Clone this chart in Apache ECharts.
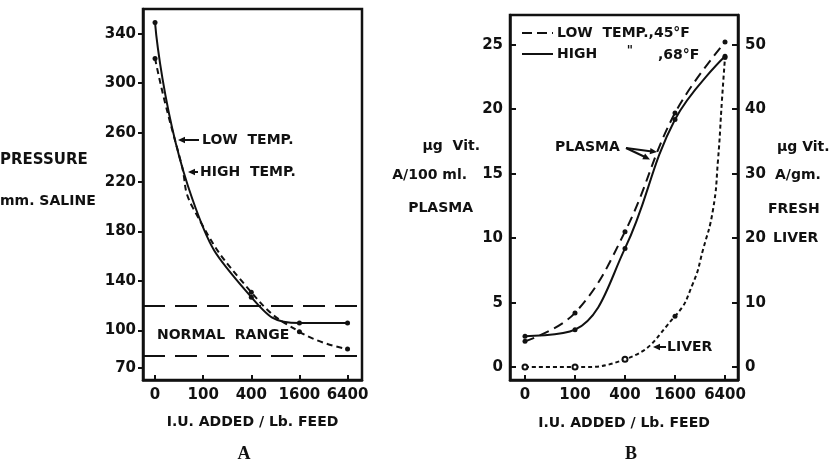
<!DOCTYPE html>
<html>
<head>
<meta charset="utf-8">
<script src="https://cdn.jsdelivr.net/npm/echarts@6/dist/echarts.min.js"></script>
<style>
  html, body { margin: 0; padding: 0; background: #fff; }
  #chart { width: 833px; height: 465px; }
</style>
</head>
<body>
<div id="chart"></div>
<script>
// categories (I.U. added per lb. feed), placed at equal steps
const xCats = ['0', '100', '400', '1600', '6400']

// panel A - pressure, mm. saline (positions in category steps)
const lowTempAPos = [0, 0.77, 2, 3, 4]
const lowTempAVal = [349, 207, 127, 106, 106]
const highTempAPos = [0, 0.21, 0.54, 0.79, 2, 3, 4]
const highTempAVal = [320, 284, 236, 199, 131, 99, 85]
const normalRange = [80, 120]
const pressureTicks = [70, 100, 140, 180, 220, 260, 300, 340]

// panel B - ug vit. A / 100 ml plasma (left) and ug / gm fresh liver (right)
const plasmaLow = [2.0, 4.2, 10.5, 19.7, 25.2]
const plasmaHigh = [2.4, 2.9, 9.2, 19.2, 24.1]
const liverPos = [0, 1, 2, 3, 3.36, 3.56, 3.76, 3.86, 3.94, 4]
const liverVal = [0, 0, 1.2, 7.9, 13, 18.2, 24.4, 32.1, 41.5, 48]
const plasmaTicks = [0, 5, 10, 15, 20, 25]
const liverTicks = [0, 10, 20, 30, 40, 50]

const FONT = 'DejaVu Sans'
const INK = '#111'

function pairs(pos, vals) {
  return pos.map((p, i) => {
    const d = { value: [p, vals[i]] }
    if (!Number.isInteger(p)) d.symbol = 'none'
    return d
  })
}

function txt(text, x, y, align, size) {
  return {
    type: 'text', x: x, y: y,
    style: {
      text: text, fill: INK, align: align || 'left', verticalAlign: 'middle',
      fontFamily: FONT, fontWeight: 'bold', fontSize: size || 14
    }
  }
}
function seg(x1, y1, x2, y2, dash) {
  return {
    type: 'line',
    shape: { x1: x1, y1: y1, x2: x2, y2: y2 },
    style: { stroke: INK, lineWidth: 2, lineDash: dash || null }
  }
}
function head(x, y, ang) {
  // arrow head with tip at (x, y), pointing along ang (radians)
  const l = 7, w = 3.2
  const bx = x - l * Math.cos(ang), by = y - l * Math.sin(ang)
  const nx = -Math.sin(ang) * w, ny = Math.cos(ang) * w
  return {
    type: 'polygon',
    shape: { points: [[x, y], [bx + nx, by + ny], [bx - nx, by - ny]] },
    style: { fill: INK }
  }
}

const axisLine = { show: true, onZero: false, lineStyle: { color: INK, width: 2.5 } }
const labelStyle = { color: INK, fontFamily: FONT, fontWeight: 'bold', fontSize: 15 }
const nameStyle = { color: INK, fontFamily: FONT, fontWeight: 'bold', fontSize: 14 }
const xTicks = [0, 1, 2, 3, 4]

const chart = echarts.init(document.getElementById('chart'), null, { renderer: 'canvas' })

chart.setOption({
  animation: false,
  backgroundColor: '#fff',
  textStyle: { fontFamily: FONT, color: INK },
  grid: [
    { left: 143, top: 9, width: 219, height: 371, show: true, borderColor: INK, borderWidth: 2.5 },
    { left: 510, top: 15, width: 228, height: 365, show: true, borderColor: INK, borderWidth: 2.5 }
  ],
  xAxis: [
    {
      gridIndex: 0, type: 'value', min: -0.25, max: 4.3,
      axisLine: axisLine, splitLine: { show: false },
      axisTick: { inside: true, length: 5, customValues: xTicks, lineStyle: { color: INK, width: 2 } },
      axisLabel: Object.assign({ margin: 8, customValues: xTicks, formatter: v => xCats[v] }, labelStyle),
      name: 'I.U. ADDED / Lb. FEED', nameLocation: 'middle', nameGap: 35, nameTextStyle: nameStyle
    },
    {
      gridIndex: 1, type: 'value', min: -0.3, max: 4.26,
      axisLine: axisLine, splitLine: { show: false },
      axisTick: { inside: true, length: 5, customValues: xTicks, lineStyle: { color: INK, width: 2 } },
      axisLabel: Object.assign({ margin: 8, customValues: xTicks, formatter: v => xCats[v] }, labelStyle),
      name: 'I.U. ADDED / Lb. FEED', nameLocation: 'middle', nameGap: 36, nameTextStyle: nameStyle
    }
  ],
  yAxis: [
    {
      gridIndex: 0, type: 'value', min: 60, max: 360,
      axisLine: axisLine, splitLine: { show: false },
      axisTick: { length: 5, customValues: pressureTicks, lineStyle: { color: INK, width: 2 } },
      axisLabel: Object.assign({ margin: 7, customValues: pressureTicks }, labelStyle)
    },
    {
      gridIndex: 1, type: 'value', min: -1, max: 27.3,
      axisLine: axisLine, splitLine: { show: false },
      axisTick: { inside: true, length: 6, customValues: plasmaTicks, lineStyle: { color: INK, width: 2 } },
      axisLabel: Object.assign({ margin: 7, customValues: plasmaTicks }, labelStyle)
    },
    {
      gridIndex: 1, type: 'value', position: 'right', min: -2, max: 54.6,
      axisLine: axisLine, splitLine: { show: false },
      axisTick: { inside: true, length: 6, customValues: liverTicks, lineStyle: { color: INK, width: 2 } },
      axisLabel: Object.assign({ margin: 7, customValues: liverTicks }, labelStyle)
    }
  ],
  series: [
    {
      name: 'LOW TEMP.', type: 'line', xAxisIndex: 0, yAxisIndex: 0,
      data: pairs(lowTempAPos, lowTempAVal),
      smooth: 0.5,
      symbol: 'circle', symbolSize: 5,
      itemStyle: { color: INK }, lineStyle: { color: INK, width: 2 }
    },
    {
      name: 'HIGH TEMP.', type: 'line', xAxisIndex: 0, yAxisIndex: 0,
      data: pairs(highTempAPos, highTempAVal),
      smooth: 0.5,
      symbol: 'circle', symbolSize: 5,
      itemStyle: { color: INK }, lineStyle: { color: INK, width: 2, type: [6, 4] },
      markLine: {
        silent: true, symbol: 'none', label: { show: false },
        lineStyle: { color: INK, width: 2, type: [22, 10] },
        data: normalRange.map(v => ({ yAxis: v }))
      }
    },
    {
      name: 'LOW TEMP.,45°F', type: 'line', xAxisIndex: 1, yAxisIndex: 1,
      data: plasmaLow.map((v, i) => [i, v]),
      smooth: 0.4, symbol: 'circle', symbolSize: 5,
      itemStyle: { color: INK }, lineStyle: { color: INK, width: 2, type: [10, 6] }
    },
    {
      name: 'HIGH ,68°F', type: 'line', xAxisIndex: 1, yAxisIndex: 1,
      data: plasmaHigh.map((v, i) => [i, v]),
      smooth: 0.4, symbol: 'circle', symbolSize: 5,
      itemStyle: { color: INK }, lineStyle: { color: INK, width: 2 }
    },
    {
      name: 'LIVER', type: 'line', xAxisIndex: 1, yAxisIndex: 2,
      data: pairs(liverPos, liverVal).map((d, i) => (i < 3 ? Object.assign(d, { symbol: 'emptyCircle' }) : d)),
      smooth: 0.5, symbol: 'circle', symbolSize: 5,
      itemStyle: { color: INK }, lineStyle: { color: INK, width: 2, type: [4, 3] }
    }
  ],
  graphic: [
    // panel A texts
    txt('PRESSURE', 0, 160, 'left', 15),
    txt('mm. SALINE', 0, 201, 'left', 14),
    head(178, 140, Math.PI), seg(183, 140, 199, 140),
    txt('LOW  TEMP.', 202, 140, 'left', 14),
    head(188, 172, Math.PI), seg(192, 172, 198, 172),
    txt('HIGH  TEMP.', 200, 172, 'left', 14),
    txt('NORMAL  RANGE', 157, 335, 'left', 14),
    {
      type: 'text', x: 244, y: 454,
      style: { text: 'A', fill: INK, align: 'center', verticalAlign: 'middle', fontFamily: 'Liberation Serif', fontWeight: 'bold', fontSize: 18 }
    },
    // panel B texts
    seg(522, 33, 553, 33, [10, 5]),
    txt('LOW  TEMP.,45°F', 557, 33, 'left', 14),
    seg(522, 54, 553, 54),
    txt('HIGH', 557, 54, 'left', 14),
    txt('"', 630, 51, 'center', 12),
    txt(',68°F', 658, 55, 'left', 14),
    txt('PLASMA', 555, 147, 'left', 14),
    seg(626, 148, 652, 151.5), head(657, 152, Math.atan2(4, 31)),
    seg(626, 148, 645, 157), head(650, 159.5, Math.atan2(11.5, 24)),
    head(653, 347, Math.PI), seg(657, 347, 666, 347),
    txt('LIVER', 667, 347, 'left', 14),
    txt('µg  Vit.', 480, 146, 'right', 14),
    txt('A/100 ml.', 467, 175, 'right', 14),
    txt('PLASMA', 473, 208, 'right', 14),
    txt('µg Vit.', 777, 147, 'left', 14),
    txt('A/gm.', 775, 175, 'left', 14),
    txt('FRESH', 768, 209, 'left', 14),
    txt('LIVER', 773, 238, 'left', 14),
    {
      type: 'text', x: 631, y: 454,
      style: { text: 'B', fill: INK, align: 'center', verticalAlign: 'middle', fontFamily: 'Liberation Serif', fontWeight: 'bold', fontSize: 18 }
    }
  ]
})
</script>
</body>
</html>
